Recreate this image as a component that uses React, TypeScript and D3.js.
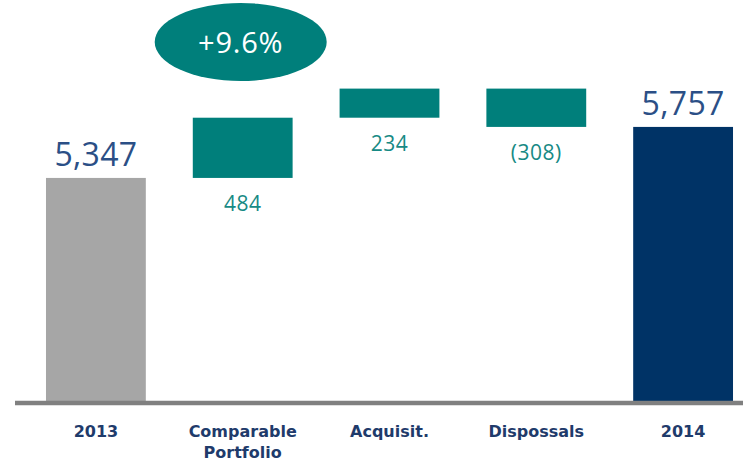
import React from "react";
import * as d3 from "d3";

const categories = ["2013", "Comparable\nPortfolio", "Acquisit.", "Dispossals", "2014"];
const kinds = ["total", "delta", "delta", "delta", "total"];
const values = [5347, 484, 234, -308, 5757];
const valueLabels = ["5,347", "484", "234", "(308)", "5,757"];
const growthLabel = "+9.6%";

const W = 743;
const H = 463;
const BASE_Y = 401;

export default function App() {
  const x = d3
    .scaleBand<string>()
    .domain(categories)
    .range([22.5, 756.5])
    .paddingInner(0.32)
    .paddingOuter(0.16);
  const y = d3.scaleLinear().domain([3554, 6065]).range([BASE_Y, 88.6]);

  let running = 0;
  const bars = categories.map((c, i) => {
    let start: number, end: number;
    if (kinds[i] === "total") {
      start = 3554;
      end = values[i];
      running = values[i];
    } else {
      start = running;
      end = running + values[i];
      running = end;
    }
    const top = y(Math.max(start, end));
    const bottom = y(Math.min(start, end));
    return { c, i, top, bottom, x0: x(c)!, w: x.bandwidth() };
  });

  const fillFor = (i: number) =>
    kinds[i] === "delta" ? "#007f7b" : i === 0 ? "#a6a6a6" : "#003366";

  const catFont = "'DejaVu Sans', Verdana, sans-serif";

  return (
    <svg
      width={W}
      height={H}
      style={{ position: "absolute", left: 0, top: 0, background: "#fff" }}
    >
      {bars.map((b) => (
        <rect
          key={b.c}
          x={b.x0}
          y={b.top}
          width={b.w}
          height={b.bottom - b.top}
          fill={fillFor(b.i)}
        />
      ))}
      <line x1={15} x2={743} y1={403} y2={403} stroke="#808080" strokeWidth={4.5} />
      {bars.map((b) =>
        kinds[b.i] === "total" ? (
          <text
            key={"v" + b.c}
            x={b.x0 + b.w / 2}
            y={b.top - 12}
            textAnchor="middle"
            fontFamily="'Open Sans', sans-serif"
            fontSize={32}
            letterSpacing={0.3}
            fill="#2b4f86"
          >
            {valueLabels[b.i]}
          </text>
        ) : (
          <text
            key={"v" + b.c}
            x={b.x0 + b.w / 2}
            y={b.bottom + 33}
            textAnchor="middle"
            fontFamily="'Open Sans', sans-serif"
            fontSize={21}
            letterSpacing={0.5}
            fill="#178a85"
          >
            {valueLabels[b.i]}
          </text>
        )
      )}
      {categories.map((c) => {
        const lines = c.split("\n");
        const cx = x(c)! + x.bandwidth() / 2;
        return (
          <text
            key={"c" + c}
            x={cx}
            y={436.5}
            textAnchor="middle"
            fontFamily={catFont}
            fontWeight="bold"
            fontSize={16}
            fill="#1f3b6b"
          >
            {lines.map((l, k) => (
              <tspan key={k} x={cx} dy={k === 0 ? 0 : 21}>
                {l}
              </tspan>
            ))}
          </text>
        );
      })}
      <g transform={`translate(${x(categories[1])! + x.bandwidth() / 2 - 2},42)`}>
        <ellipse rx={86} ry={39} fill="#007f7b" />
        <text
          y={11}
          textAnchor="middle"
          fontFamily="'Open Sans', sans-serif"
          fontSize={29}
          letterSpacing={0.8}
          fill="#ffffff"
        >
          {growthLabel}
        </text>
      </g>
    </svg>
  );
}
